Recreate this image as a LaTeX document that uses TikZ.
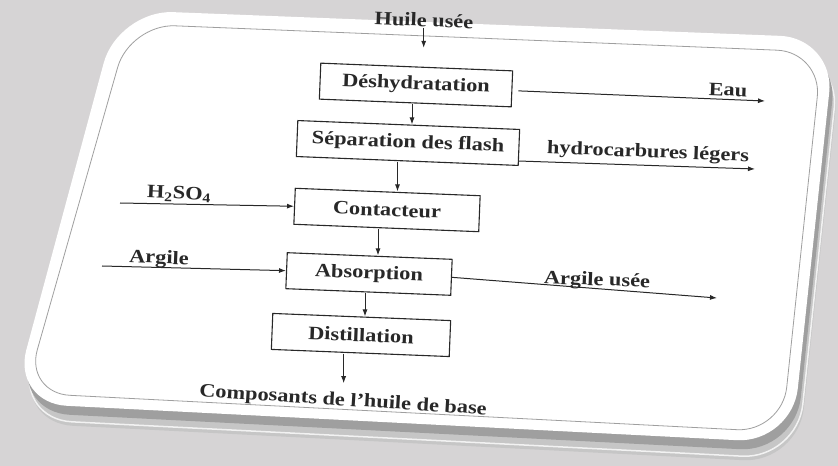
\documentclass[tikz,border=0pt]{standalone}
\usepackage{fontspec}
\setmainfont{Liberation Serif}[FakeStretch=1.18]
\usepackage{tikz}
\usetikzlibrary{positioning}
\usetikzlibrary{calc}
\usetikzlibrary{arrows.meta}
\definecolor{backgray}{RGB}{214,212,213}
\definecolor{inkgray}{RGB}{40,40,40}

\tikzset{
  stage/.style={draw=inkgray, line width=1.1bp, rotate=-2.3, minimum height=36bp, inner sep=0pt,
    font=\fontsize{19}{21}\selectfont\bfseries, text=inkgray},
  stream/.style={rotate=-2.3, inner sep=1bp, font=\fontsize{19}{21}\selectfont\bfseries, text=inkgray},
  flow/.style={draw=inkgray, line width=1bp, -{Latex[length=7bp,width=5bp]}},
}

\newcommand{\cardshape}{(118,10) -- (835,38) -- (792,443) -- (12,403) -- cycle}

\begin{document}
\begin{tikzpicture}[x=1bp, y=-1bp]
  \useasboundingbox (0,0) rectangle (838,466);
  \fill[backgray] (0,0) rectangle (838,466);

  % card with its bevelled edge
  \fill[gray!45, rounded corners=55bp, shift={(6,20)}] \cardshape;
  \draw[white!90!gray, line width=1.5bp, rounded corners=55bp, shift={(5,16)}] \cardshape;
  \fill[gray!75, rounded corners=55bp, shift={(3,9)}] \cardshape;
  \fill[white, rounded corners=55bp] \cardshape;
  \draw[gray!75, line width=0.8bp, rounded corners=45bp]
    (130,24) -- (822,52) -- (782,432) -- (25,393) -- cycle;

  % process stages
  \node[stage, minimum width=192bp] (desh)  at (416,85)  {Déshydratation};
  \node[stage, minimum width=222bp] (flash) at (408,143) {Séparation des flash};
  \node[stage, minimum width=185bp] (cont)  at (387,210) {Contacteur};
  \node[stage, minimum width=165bp] (abso)  at (369,274) {Absorption};
  \node[stage, minimum width=178bp] (dist)  at (361,335) {Distillation};

  % streams
  \node[stream] (huile) at (424,20)  {Huile usée};
  \node[stream] (eau)   at (728,90)  {Eau};
  \node[stream] (hydro) at (648,153) {hydrocarbures légers};
  \node[stream] (acid)  at (179,194) {H\textsubscript{2}SO\textsubscript{4}};
  \node[stream] (clay)  at (159,259) {Argile};
  \node[stream] (spent) at (597,281) {Argile usée};
  \node[stream, rotate=-1.4] (comp) at (343,401) {Composants de l’huile de base};

  \coordinate (eauend)   at (765,101);
  \coordinate (hydroend) at (755,169);
  \coordinate (acidin)   at (120,203);
  \coordinate (clayin)   at (102,266);
  \coordinate (spentend) at (717,298);

  % connectors
  \draw[flow] (huile.south) -- ++(0,20);
  \foreach \a/\b in {desh/flash, flash/cont, cont/abso, abso/dist} {
    \path ($(\a.south)!.5!(\b.north)$) coordinate (mid);
    \draw[flow] (mid |- \a.south) -- (mid |- \b.north);
  }
  \draw[flow] ($(desh.east)+(6,2)$) -- (eauend);
  \draw[flow] ($(flash.south east)+(0,-5)$) -- (hydroend);
  \draw[flow] (acidin) -- (cont.west);
  \draw[flow] (clayin) -- (abso.west);
  \draw[flow] (abso.east) -- (spentend);
  \draw[flow] (comp.north |- dist.south) -- ($(comp.north)+(0,-8)$);
\end{tikzpicture}
\end{document}
